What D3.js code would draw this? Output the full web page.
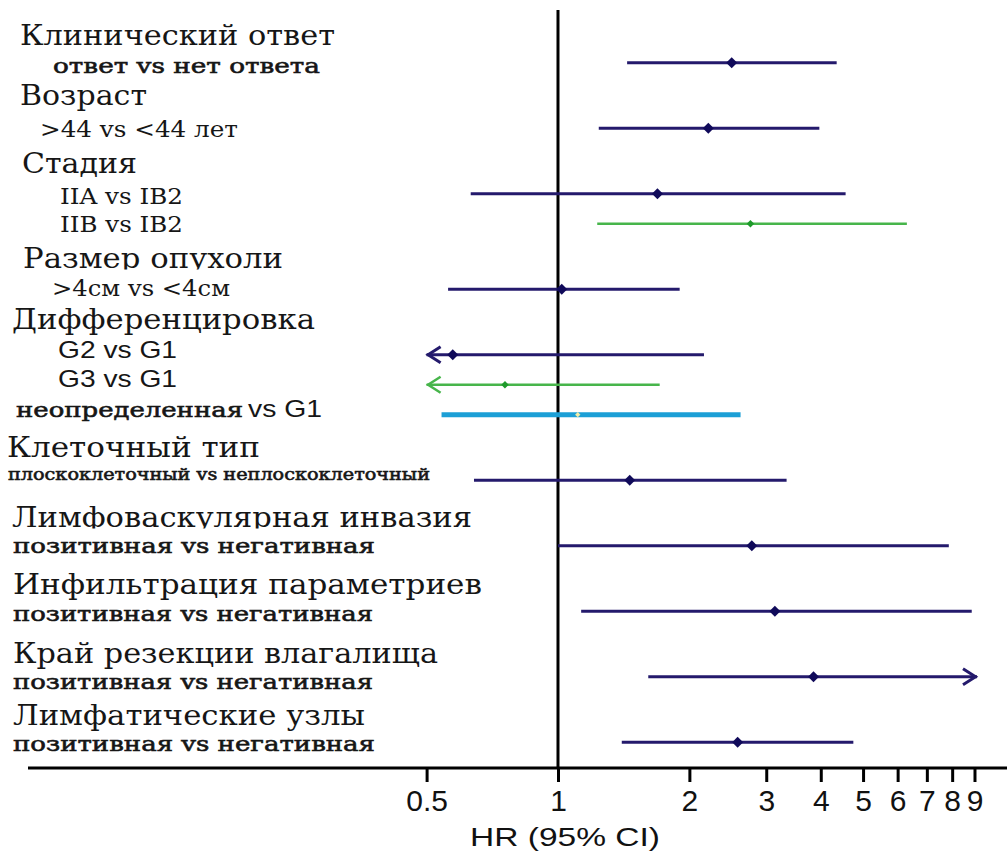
<!DOCTYPE html>
<html lang="ru">
<head>
<meta charset="utf-8">
<title>HR (95% CI)</title>
<script src="https://cdn.jsdelivr.net/npm/d3@7"></script>
<style>
  html, body { margin: 0; padding: 0; background: #fff; }
  svg { display: block; }
</style>
</head>
<body>
<svg id="chart" width="1007" height="854"></svg>
<script>
// ---- data ----
const groups = [
  "Клинический ответ", "Возраст", "Стадия", "Размер опухоли", "Дифференцировка",
  "Клеточный тип", "Лимфоваскулярная инвазия", "Инфильтрация параметриев",
  "Край резекции влагалища", "Лимфатические узлы"
];
const comparisons = [
  "ответ vs нет ответа", ">44 vs <44 лет", "IIA vs IB2", "IIB vs IB2", ">4см vs <4см",
  "G2 vs G1", "G3 vs G1", "неопределенная vs G1", "плоскоклеточный vs неплоскоклеточный",
  "позитивная vs негативная", "позитивная vs негативная", "позитивная vs негативная",
  "позитивная vs негативная"
];
const groupOf = [0, 1, 2, 2, 3, 4, 4, 4, 5, 6, 7, 8, 9];
const hr     = [2.50, 2.21, 1.69, 2.76, 1.02, 0.574, 0.756, 1.11, 1.46, 2.78, 3.14, 3.85, 2.58];
const ciLow  = [1.44, 1.24, 0.631, 1.23, 0.560, 0.30, 0.30, 0.541, 0.642, 1.00, 1.13, 1.61, 1.40];
const ciHigh = [4.35, 3.97, 4.56, 6.30, 1.90, 2.16, 1.71, 2.62, 3.34, 7.86, 8.87, 11.0, 4.75];
const series = ["a", "a", "a", "b", "a", "a", "b", "c", "a", "a", "a", "a", "a"];
const hrTicks = [0.5, 1, 2, 3, 4, 5, 6, 7, 8, 9];
const axisTitle = "HR (95% CI)";

// ---- layout ----
const W = 1007, H = 854;
const axisY = 768;
const groupStep = 65.5, rowStep = 30;
const headX  = [20, 20, 22, 23, 12, 7, 12, 13, 13, 13];
const headW  = [315, 127, 115, 260, 303, 253, 460, 469, 425, 352];
const headDy = [-17.7, -23.2, -20.7, -21.2, -25.7, -23.2, -18.7, -17.2, -13.7, -17.7];
const headClip = [false, false, false, true, false, false, true, false, false, false];
const subX  = [53, 40, 60, 60, 52, 58, 58, 16, 8, 13, 13, 13, 13];
const subW  = [267, 198, 123, 123, 178, 119, 119, 227, 422, 362, 360, 360, 362];
const subDy = [10.3, 8.8, 10.3, 8.3, 6.8, 3.3, 2.3, 2.3, -0.2, 7.3, 9.8, 12.3, 8.8];
const subFont = ["serifB", "serif", "serif", "serif", "serif", "sans", "sans", "mixed",
                 "serifSmall", "serifB", "serifB", "serifB", "serifB"];
const styles = {
  a: { line: "#241a6c", width: 3,   point: "#100a5a", size: 60, arrow: "#241a6c" },
  b: { line: "#47b54b", width: 2.5, point: "#1e9a2b", size: 28, arrow: "#47b54b" },
  c: { line: "#1c9fd6", width: 5,   point: "#f1eca8", size: 14, arrow: "#1c9fd6" }
};
const SERIF = "'DejaVu Serif', 'Liberation Serif', serif";
const SANS = "'Liberation Sans', Arial, sans-serif";
const textColor = "#161616";

const svg = d3.select("#chart");

// horizontal HR scale (log)
const x = d3.scaleLog().domain([0.5, 9.12]).range([426.6, 977]).clamp(true);

// vertical slot scale: groups are spaced wider than rows inside a group
const slot = [];
{
  let extra = 0;
  groupOf.forEach((g, i) => {
    if (i > 0 && groupOf[i - 1] === g) extra += 1;
    slot.push(g + extra * rowStep / groupStep);
  });
}
const y = d3.scaleLinear().domain([0, 1]).range([62.7, 62.7 + groupStep]);

// ---- left labels ----
const defs = svg.append("defs");
const labels = svg.append("g").attr("fill", textColor);

// semi-bold look: regular glyphs with a thin outline
const semiBold = sel => sel.attr("stroke", textColor).attr("stroke-width", 0.6);

groups.forEach((name, g) => {
  const first = groupOf.indexOf(g);
  const base = y(slot[first]) + headDy[g];
  const t = labels.append("text")
    .attr("x", headX[g]).attr("y", base)
    .attr("font-family", SERIF).attr("font-size", 27)
    .attr("textLength", headW[g]).attr("lengthAdjust", "spacingAndGlyphs")
    .text(name);
  if (headClip[g]) {
    const id = "clipHead" + g;
    defs.append("clipPath").attr("id", id)
      .append("rect").attr("x", 0).attr("y", base - 40).attr("width", 520).attr("height", 41.5);
    t.attr("clip-path", `url(#${id})`);
  }
});

comparisons.forEach((label, i) => {
  const base = y(slot[i]) + subDy[i];
  const kind = subFont[i];
  if (kind === "mixed") {
    const cut = label.indexOf(" vs ");
    labels.append("text")
      .attr("x", subX[i]).attr("y", base)
      .attr("font-family", SERIF).attr("font-size", 21)
      .attr("textLength", subW[i]).attr("lengthAdjust", "spacingAndGlyphs")
      .text(label.slice(0, cut))
      .call(semiBold);
    labels.append("text")
      .attr("x", subX[i] + subW[i] + 5).attr("y", base)
      .attr("font-family", SANS).attr("font-size", 24)
      .attr("textLength", 74).attr("lengthAdjust", "spacingAndGlyphs")
      .text(label.slice(cut + 1));
    return;
  }
  const t = labels.append("text")
    .attr("x", subX[i]).attr("y", base)
    .attr("textLength", subW[i]).attr("lengthAdjust", "spacingAndGlyphs")
    .text(label);
  if (kind === "sans") {
    t.attr("font-family", SANS).attr("font-size", 24);
  } else if (kind === "serifSmall") {
    t.attr("font-family", SERIF).attr("font-size", 17).call(semiBold);
  } else if (kind === "serifB") {
    t.attr("font-family", SERIF).attr("font-size", 21).call(semiBold);
  } else {
    t.attr("font-family", SERIF).attr("font-size", 21.5);
  }
});

// ---- reference line at HR = 1 ----
svg.append("line")
  .attr("x1", x(1)).attr("x2", x(1))
  .attr("y1", 10).attr("y2", axisY)
  .attr("stroke", "#000").attr("stroke-width", 3);

// ---- confidence intervals, arrows and point estimates ----
const [dMin, dMax] = x.domain();
const rows = svg.append("g");
comparisons.forEach((_, i) => {
  const st = styles[series[i]];
  const yy = y(slot[i]);
  const x0 = x(ciLow[i]), x1 = x(ciHigh[i]);
  rows.append("line")
    .attr("x1", x0).attr("x2", x1).attr("y1", yy).attr("y2", yy)
    .attr("stroke", st.line).attr("stroke-width", st.width);
  const chevron = (tipX, dir) => {
    rows.append("path")
      .attr("d", `M${tipX + dir * 14},${yy - 8}L${tipX + 1.5 * dir},${yy}L${tipX + dir * 14},${yy + 8}`)
      .attr("fill", "none").attr("stroke", st.arrow)
      .attr("stroke-width", st.width).attr("stroke-linejoin", "miter");
  };
  if (ciLow[i] < dMin) chevron(x0, 1);
  if (ciHigh[i] > dMax) chevron(x1, -1);
  rows.append("path")
    .attr("d", d3.symbol(d3.symbolSquare, st.size)())
    .attr("transform", `translate(${x(hr[i])},${yy}) rotate(45)`)
    .attr("fill", st.point);
});

// ---- x axis ----
svg.append("line")
  .attr("x1", 28).attr("x2", W).attr("y1", axisY).attr("y2", axisY)
  .attr("stroke", "#000").attr("stroke-width", 3);

const axis = d3.axisBottom(x)
  .tickValues(hrTicks)
  .tickFormat(d => String(d))
  .tickSize(14)
  .tickPadding(8);

const gAxis = svg.append("g")
  .attr("transform", `translate(0,${axisY})`)
  .call(axis);
gAxis.select(".domain").remove();
gAxis.selectAll(".tick line").attr("stroke", "#000").attr("stroke-width", 3);
gAxis.selectAll(".tick text")
  .attr("fill", "#111")
  .attr("font-family", SANS)
  .attr("font-size", 30);

svg.append("text")
  .attr("x", 565).attr("y", 846)
  .attr("text-anchor", "middle")
  .attr("font-family", SANS).attr("font-size", 25)
  .attr("fill", "#111")
  .attr("textLength", 190).attr("lengthAdjust", "spacingAndGlyphs")
  .text(axisTitle);
</script>
</body>
</html>
